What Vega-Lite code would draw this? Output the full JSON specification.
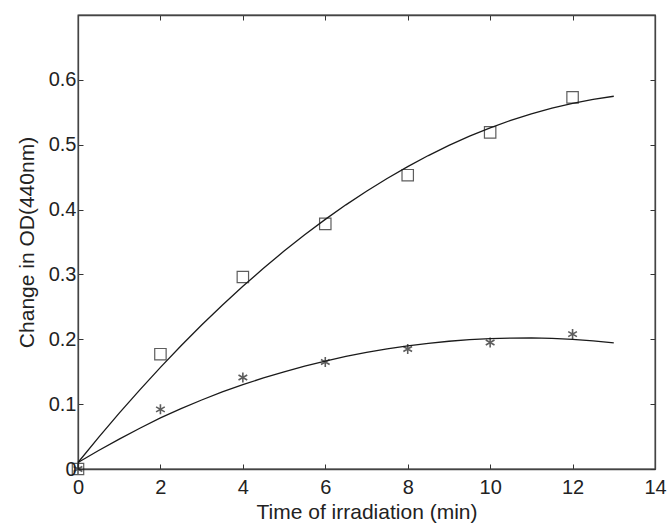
{
  "$schema": "https://vega.github.io/schema/vega-lite/v6.json",
  "autosize": "none",
  "width": 577,
  "height": 454,
  "padding": {"left": 78, "top": 15, "right": 13, "bottom": 55},
  "background": "white",
  "config": {
    "view": {"stroke": "#333", "strokeWidth": 1.3},
    "axis": {
      "grid": false,
      "labelFlush": false,
      "labelOverlap": false,
      "domainColor": "#444",
      "domainWidth": 1.3,
      "tickColor": "#333",
      "tickSize": -5,
      "tickWidth": 1,
      "labelFont": "Liberation Sans",
      "labelFontSize": 20,
      "labelColor": "#222",
      "titleFont": "Liberation Sans",
      "titleFontSize": 21,
      "titleFontWeight": "normal",
      "titleColor": "#222"
    }
  },
  "datasets": {
    "pts": [
      {"series": "A", "x": 0, "y": 0},
      {"series": "A", "x": 2, "y": 0.177},
      {"series": "A", "x": 4, "y": 0.296},
      {"series": "A", "x": 6, "y": 0.378},
      {"series": "A", "x": 8, "y": 0.453},
      {"series": "A", "x": 10, "y": 0.519},
      {"series": "A", "x": 12, "y": 0.573},
      {"series": "B", "x": 0, "y": 0},
      {"series": "B", "x": 2, "y": 0.092},
      {"series": "B", "x": 4, "y": 0.141},
      {"series": "B", "x": 6, "y": 0.165},
      {"series": "B", "x": 8, "y": 0.185},
      {"series": "B", "x": 10, "y": 0.195},
      {"series": "B", "x": 12, "y": 0.208}
    ],
    "fit": [
      {"series": "A", "x": 0, "y": 0.010},
      {"series": "A", "x": 0.5, "y": 0.0487},
      {"series": "A", "x": 1, "y": 0.0861},
      {"series": "A", "x": 1.5, "y": 0.1221},
      {"series": "A", "x": 2, "y": 0.1567},
      {"series": "A", "x": 2.5, "y": 0.190},
      {"series": "A", "x": 3, "y": 0.2219},
      {"series": "A", "x": 3.5, "y": 0.2525},
      {"series": "A", "x": 4, "y": 0.2817},
      {"series": "A", "x": 4.5, "y": 0.3095},
      {"series": "A", "x": 5, "y": 0.336},
      {"series": "A", "x": 5.5, "y": 0.3611},
      {"series": "A", "x": 6, "y": 0.3849},
      {"series": "A", "x": 6.5, "y": 0.4073},
      {"series": "A", "x": 7, "y": 0.4283},
      {"series": "A", "x": 7.5, "y": 0.448},
      {"series": "A", "x": 8, "y": 0.4663},
      {"series": "A", "x": 8.5, "y": 0.4833},
      {"series": "A", "x": 9, "y": 0.4989},
      {"series": "A", "x": 9.5, "y": 0.5131},
      {"series": "A", "x": 10, "y": 0.526},
      {"series": "A", "x": 10.5, "y": 0.5375},
      {"series": "A", "x": 11, "y": 0.5477},
      {"series": "A", "x": 11.5, "y": 0.5565},
      {"series": "A", "x": 12, "y": 0.5639},
      {"series": "A", "x": 12.5, "y": 0.570},
      {"series": "A", "x": 13, "y": 0.5747},
      {"series": "B", "x": 0, "y": 0.010},
      {"series": "B", "x": 0.5, "y": 0.0285},
      {"series": "B", "x": 1, "y": 0.0461},
      {"series": "B", "x": 1.5, "y": 0.0629},
      {"series": "B", "x": 2, "y": 0.0789},
      {"series": "B", "x": 2.5, "y": 0.0930},
      {"series": "B", "x": 3, "y": 0.1064},
      {"series": "B", "x": 3.5, "y": 0.1189},
      {"series": "B", "x": 4, "y": 0.1300},
      {"series": "B", "x": 4.5, "y": 0.1404},
      {"series": "B", "x": 5, "y": 0.1499},
      {"series": "B", "x": 5.5, "y": 0.1586},
      {"series": "B", "x": 6, "y": 0.1664},
      {"series": "B", "x": 6.5, "y": 0.1735},
      {"series": "B", "x": 7, "y": 0.1797},
      {"series": "B", "x": 7.5, "y": 0.1852},
      {"series": "B", "x": 8, "y": 0.1899},
      {"series": "B", "x": 8.5, "y": 0.1938},
      {"series": "B", "x": 9, "y": 0.1970},
      {"series": "B", "x": 9.5, "y": 0.1994},
      {"series": "B", "x": 10, "y": 0.2010},
      {"series": "B", "x": 10.5, "y": 0.2019},
      {"series": "B", "x": 11, "y": 0.2021},
      {"series": "B", "x": 11.5, "y": 0.2015},
      {"series": "B", "x": 12, "y": 0.2000},
      {"series": "B", "x": 12.5, "y": 0.1977},
      {"series": "B", "x": 13, "y": 0.1945}
    ]
  },
  "resolve": {"axis": {"x": "independent", "y": "independent"}},
  "layer": [
    {
      "data": {"name": "fit"},
      "mark": {"type": "line", "color": "#1a1a1a", "strokeWidth": 1.3},
      "encoding": {
        "x": {"field": "x", "type": "quantitative", "scale": {"domain": [0, 14], "nice": false},
          "axis": {"title": "Time of irradiation (min)", "values": [0, 2, 4, 6, 8, 10, 12, 14], "labelPadding": 13, "titlePadding": 4}},
        "y": {"field": "y", "type": "quantitative", "scale": {"domain": [0, 0.7], "nice": false},
          "axis": {"title": "Change in OD(440nm)", "values": [0, 0.1, 0.2, 0.3, 0.4, 0.5, 0.6], "labelExpr": "datum.value == 0 ? '0' : format(datum.value, '.1f')", "labelPadding": 7, "titlePadding": 11}},
        "detail": {"field": "series"}
      }
    },
    {
      "data": {"name": "pts"},
      "transform": [{"filter": "datum.series == 'A'"}],
      "mark": {"type": "point", "shape": "square", "size": 130, "filled": false, "stroke": "#1a1a1a", "strokeWidth": 1.2},
      "encoding": {
        "x": {"field": "x", "type": "quantitative", "scale": {"domain": [0, 14], "nice": false},
          "axis": {"orient": "top", "title": null, "labels": false, "values": [0, 2, 4, 6, 8, 10, 12, 14]}},
        "y": {"field": "y", "type": "quantitative", "scale": {"domain": [0, 0.7], "nice": false},
          "axis": {"orient": "right", "title": null, "labels": false, "values": [0, 0.1, 0.2, 0.3, 0.4, 0.5, 0.6]}}
      }
    },
    {
      "data": {"name": "pts"},
      "transform": [{"filter": "datum.series == 'B'"}],
      "mark": {"type": "point", "shape": "M0,-1L0,1M-0.87,-0.5L0.87,0.5M-0.87,0.5L0.87,-0.5", "size": 100, "filled": false, "stroke": "#1a1a1a", "strokeWidth": 1.6},
      "encoding": {
        "x": {"field": "x", "type": "quantitative", "scale": {"domain": [0, 14], "nice": false}, "axis": null},
        "y": {"field": "y", "type": "quantitative", "scale": {"domain": [0, 0.7], "nice": false}, "axis": null}
      }
    }
  ]
}
